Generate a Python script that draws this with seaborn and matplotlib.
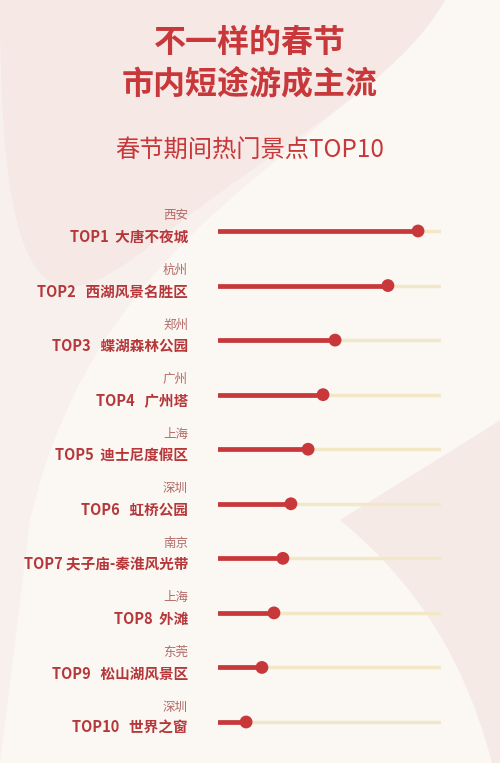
import numpy as np
import pandas as pd
import seaborn as sns
from matplotlib import pyplot as plt
from matplotlib.path import Path
from matplotlib.patches import PathPatch

# data (share of the track, 0-100)
labels = ["TOP1  大唐不夜城", "TOP2   西湖风景名胜区", "TOP3   蝶湖森林公园", "TOP4   广州塔",
          "TOP5  迪士尼度假区", "TOP6   虹桥公园", "TOP7 夫子庙-秦淮风光带", "TOP8  外滩",
          "TOP9   松山湖风景区", "TOP10   世界之窗"]
cities = ["西安", "杭州", "郑州", "广州", "上海", "深圳", "南京", "上海", "东莞", "深圳"]
values = [89.7, 76.2, 52.5, 47.1, 40.4, 32.7, 29.1, 25.1, 19.7, 12.6]

title = "不一样的春节\n市内短途游成主流"
subtitle = "春节期间热门景点TOP10"

RED = "#C8373A"
TRACK = "#F2E8C8"
BG = "#FBF7F2"

sns.set_theme(style="white")
plt.rcParams['font.family'] = ['Noto Sans CJK SC', 'DejaVu Sans']

df = pd.DataFrame({"label": labels, "city": cities, "value": values})
df["row"] = np.arange(len(df))

W, H = 500, 763
fig = plt.figure(figsize=(W / 100, H / 100), dpi=100, facecolor=BG)


def px_path(points, codes, color):
    pts = [(x / W, 1 - y / H) for x, y in points]
    return PathPatch(Path(pts, codes), transform=fig.transFigure,
                     facecolor=color, edgecolor="none", zorder=0)


# soft background shapes
C = Path.CURVE4
M, L, Z = Path.MOVETO, Path.LINETO, Path.CLOSEPOLY
fig.add_artist(px_path(
    [(0, 0), (445, 0), (330, 160), (100, 220), (30, 520), (0, 763), (0, 0)],
    [M, L, C, C, C, L, Z], "#F8F0ED"))
fig.add_artist(px_path(
    [(0, 0), (445, 0), (400, 80), (300, 130), (170, 230), (60, 320), (0, 340), (0, 0)],
    [M, L, C, C, C, C, C, Z], "#F5E8E5"))
fig.add_artist(px_path(
    [(500, 763), (492, 763), (460, 640), (400, 570), (340, 520),
     (420, 470), (470, 440), (500, 420), (500, 763)],
    [M, L, C, C, C, C, C, C, Z], "#F6EAE7"))

fig.text(0.5, 1 - 64 / H, title, ha="center", va="center", color=RED,
         fontsize=23, fontweight="bold", linespacing=1.4)
fig.text(0.5, 1 - 150 / H, subtitle, ha="center", va="center", color=RED,
         fontsize=17.5)

step = (722 - 231) / 9
ax = fig.add_axes([218 / W, 1 - (722 + step / 2) / H, (441 - 218) / W, 10 * step / H])
ax.set_facecolor("none")

ax.hlines(df["row"], 0, 100, color=TRACK, lw=2.4, capstyle="round", zorder=1)
ax.hlines(df["row"], 0, df["value"], color=RED, lw=3.4, capstyle="round", zorder=2)
sns.scatterplot(data=df, x="value", y="row", ax=ax, color=RED, s=85,
                edgecolor="none", zorder=3, clip_on=False, legend=False)

ax.set_xlim(0, 100)
ax.set_ylim(9.5, -0.5)
ax.axis("off")

label_x = 188 / W
for _, r in df.iterrows():
    ax.annotate(r["city"], xy=(label_x, r["row"]), xycoords=("figure fraction", "data"),
                xytext=(0, 15), textcoords="offset pixels", ha="right", va="center",
                color="#B46A68", fontsize=9)
    ax.annotate(r["label"], xy=(label_x, r["row"]),
                xycoords=("figure fraction", "data"), xytext=(0, -6),
                textcoords="offset pixels", ha="right", va="center",
                color="#B5373A", fontsize=10.5, fontweight="bold")

fig.savefig("out.png", dpi=100, facecolor=BG)
